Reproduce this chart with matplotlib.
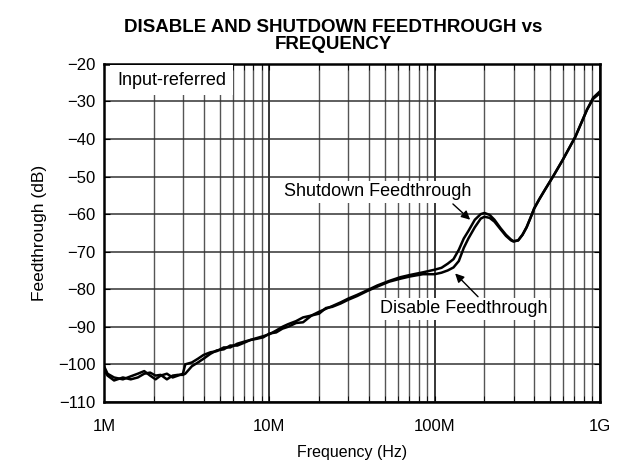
import matplotlib
matplotlib.use("Agg")
import matplotlib.pyplot as plt
import numpy as np

plt.rcParams['font.family'] = ['Liberation Sans', 'DejaVu Sans']

title = "DISABLE AND SHUTDOWN FEEDTHROUGH vs\nFREQUENCY"
xlabel = "Frequency (Hz)"
ylabel = "Feedthrough (dB)"

freq_mhz = [1.0, 1.05, 1.15, 1.3, 1.45, 1.6, 1.75, 1.9, 2.05, 2.2, 2.4, 2.6, 2.8, 3.0,
            3.1, 3.4, 3.7, 4.0, 4.4, 4.8, 5.3, 5.8, 6.4, 7.0, 7.7, 8.4, 9.2, 10, 11, 12,
            13, 14.5, 16, 18, 20, 22, 24, 27, 30, 34, 39, 45, 53, 62, 71, 85, 100, 110,
            120, 130, 140, 150, 160, 175, 190, 200, 215, 230, 250, 270, 290, 300, 320,
            340, 360, 380, 400, 430, 465, 520, 595, 710, 835, 910, 1000]

shutdown_db = [-100.5, -102.5, -103.5, -104, -103.2, -102.5, -101.8, -103, -104, -103,
               -102.5, -103.5, -103, -102.5, -100, -99.5, -98.5, -97.5, -96.8, -96.5,
               -95.5, -95.5, -94.5, -94, -93.5, -93, -92.5, -92, -91, -90, -89.3, -88.5,
               -87.5, -87, -86, -85.2, -84.5, -83.5, -82.5, -81.5, -80.3, -79, -77.8,
               -76.8, -76.2, -75.5, -74.8, -74.3, -73.2, -72, -69.5, -66.5, -64.5, -61.5,
               -60, -59.7, -60.2, -61.5, -63.7, -65.5, -66.8, -67.2, -67, -65.5, -63.5,
               -61, -58.5, -56, -53.5, -50, -45.6, -39.4, -32.2, -29, -27.3]

disable_db = [-101.5, -103, -104.3, -103.5, -104, -103.5, -102.5, -102.2, -103, -102.8,
              -104, -103, -102.8, -102.8, -102.5, -100.5, -99.5, -98.5, -97.2, -96.3,
              -96, -95, -95, -94.3, -93.5, -93.2, -92.8, -91.8, -91.5, -90.5, -90, -89,
              -88.8, -87, -86.5, -85, -84.7, -83.8, -82.8, -81.8, -80.5, -79.3, -78,
              -77.2, -76.6, -76, -76, -75.6, -75, -74.2, -72.5, -69, -66.5, -63.5,
              -61.2, -60.7, -61, -62, -64, -65.8, -67, -67.3, -67, -65.5, -63.5,
              -61, -58.5, -56, -53.5, -50, -45.6, -39.4, -32.2, -29.3, -27.8]

xticks_hz = [1e6, 1e7, 1e8, 1e9]
xtick_labels = ["1M", "10M", "100M", "1G"]
yticks = list(range(-110, -19, 10))

fig = plt.figure(figsize=(6.23, 4.63), dpi=100)
ax = fig.add_axes([0.167, 0.132, 0.796, 0.730])

f = np.array(freq_mhz) * 1e6
ax.plot(f, shutdown_db, color='black', lw=1.8, zorder=3)
ax.plot(f, disable_db, color='black', lw=1.8, zorder=3)

ax.set_xscale('log')
ax.set_xlim(1e6, 1e9)
ax.set_ylim(-110, -20)
ax.set_xticks(xticks_hz)
ax.set_xticklabels(xtick_labels)
ax.set_yticks(yticks)
ax.set_yticklabels([f"\u2212{abs(v)}" for v in yticks])
ax.tick_params(axis='both', which='major', labelsize=12, direction='in', length=4,
               top=True, right=True, pad=6)
ax.tick_params(axis='x', which='major', pad=12)
ax.tick_params(axis='x', which='minor', direction='in', length=4, top=True)

ax.grid(True, which='major', axis='x', color='black', lw=1.1)
ax.grid(True, which='minor', axis='x', color='#555555', lw=1.0)
ax.grid(True, which='major', axis='y', color='#333333', lw=1.1)
for s in ax.spines.values():
    s.set_linewidth(1.8)

ax.set_xlabel(xlabel, fontsize=11.5, labelpad=8)
ax.set_ylabel(ylabel, fontsize=12.5, labelpad=8)
fig.text(333 / 623, 1 - 19 / 463, title, ha='center', va='top',
         fontsize=13.5, fontweight='bold', linespacing=1.0)

box = dict(facecolor='white', edgecolor='none', pad=2)
ax.text(1.2e6, -24.3, "Input-referred", fontsize=13, ha='left', va='center',
        bbox=dict(facecolor='white', edgecolor='none', pad=5), zorder=4)

ax.text(4.55e7, -54.1, "Shutdown Feedthrough", fontsize=13, ha='center', va='center',
        bbox=box, zorder=4)
ax.annotate("", xy=(1.64e8, -61.5), xytext=(1.29e8, -57.3),
            arrowprops=dict(arrowstyle='-|>', color='black', lw=1.0,
                            mutation_scale=13, shrinkA=0, shrinkB=0), zorder=5)

ax.text(1.5e8, -85.2, "Disable Feedthrough", fontsize=13, ha='center', va='center',
        bbox=box, zorder=4)
ax.annotate("", xy=(1.33e8, -75.8), xytext=(1.83e8, -82.0),
            arrowprops=dict(arrowstyle='-|>', color='black', lw=1.0,
                            mutation_scale=13, shrinkA=0, shrinkB=0), zorder=5)

fig.savefig("out.png", dpi=100)
